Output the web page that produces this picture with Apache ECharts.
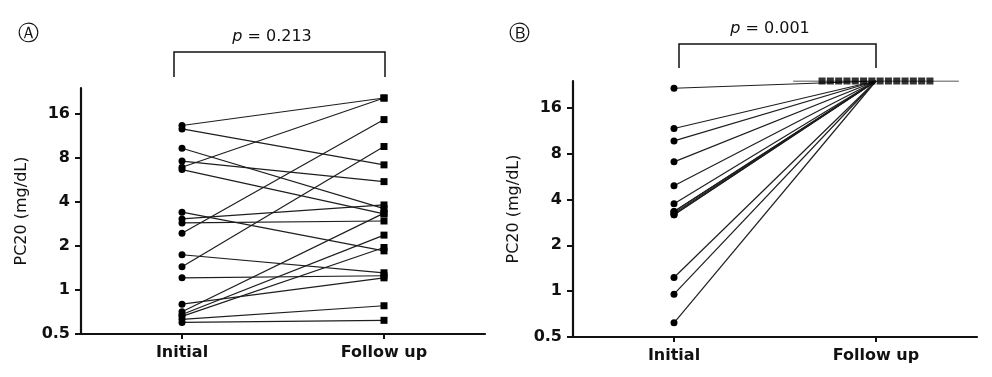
<!DOCTYPE html>
<html>
<head>
<meta charset="utf-8">
<script src="https://cdn.jsdelivr.net/npm/echarts@6/dist/echarts.min.js"></script>
<style>
html,body{margin:0;padding:0;background:#fff;}
#chart{width:992px;height:377px;}
</style>
</head>
<body>
<div id="chart"></div>
<script>
// ---- data ----
const categories = ['Initial', 'Follow up'];
const yTicks = [0.5, 1, 2, 4, 8, 16];
const yMin = 0.5;
const yMax = 24;
// Panel A: paired PC20 values (mg/dL)
const initialA = [13.3, 12.6, 9.3, 7.6, 6.9, 6.65, 3.4, 3.06, 2.87, 2.44, 1.74, 1.44, 1.21, 0.80, 0.71, 0.68, 0.66, 0.63, 0.60];
const followA  = [20.5, 7.16, 3.6, 5.5, 20.5, 3.31, 1.85, 3.81, 2.96, 14.6, 1.31, 9.56, 1.25, 1.21, 3.35, 2.37, 1.95, 0.78, 0.62];
// Panel B: paired PC20 values (mg/dL)
const initialB = [21.5, 11.7, 9.7, 7.07, 4.93, 3.75, 3.34, 3.34, 3.25, 3.17, 3.17, 1.23, 0.955, 0.62];
const followB  = [24, 24, 24, 24, 24, 24, 24, 24, 24, 24, 24, 24, 24, 24];
const pTextA = '0.213';
const pTextB = '0.001';
const yName = 'PC20 (mg/dL)';

// ---- style ----
const FONT = 'DejaVu Sans';
const INK = '#111';
const LINE = '#1e1e1e';

function yAxisCfg(gridIndex) {
  return {
    type: 'log', logBase: 2, gridIndex: gridIndex, min: yMin, max: yMax,
    name: yName, nameLocation: 'middle', nameRotate: 90, nameGap: 51,
    nameTextStyle: {fontFamily: FONT, fontSize: 16, color: INK},
    axisLine: {show: true, lineStyle: {color: INK, width: 2.2}},
    axisTick: {show: true, length: 6, lineStyle: {color: INK, width: 2}, customValues: yTicks},
    axisLabel: {fontFamily: FONT, fontWeight: 'bold', fontSize: 16, color: INK, margin: 11,
      customValues: yTicks, formatter: v => String(v)},
    splitLine: {show: false}, minorTick: {show: false}
  };
}
function xAxisCfg(gridIndex) {
  return {
    type: 'category', gridIndex: gridIndex, data: categories, boundaryGap: true,
    axisLine: {show: true, lineStyle: {color: INK, width: 2.2}},
    axisTick: {show: true, alignWithLabel: true, length: 5, lineStyle: {color: INK, width: 2}},
    axisLabel: {fontFamily: FONT, fontWeight: 'bold', fontSize: 16, color: INK, margin: 11},
    splitLine: {show: false}
  };
}

const series = [];
initialA.forEach((v, i) => {
  series.push({
    type: 'line', xAxisIndex: 0, yAxisIndex: 0, silent: true, animation: false,
    lineStyle: {color: LINE, width: 1.2},
    itemStyle: {color: '#000'},
    data: [
      {value: v, symbol: 'circle', symbolSize: 7},
      {value: followA[i], symbol: 'rect', symbolSize: 7}
    ]
  });
});
initialB.forEach((v, i) => {
  series.push({
    type: 'line', xAxisIndex: 1, yAxisIndex: 1, silent: true, animation: false,
    lineStyle: {color: LINE, width: 1.2},
    itemStyle: {color: '#000'},
    data: [
      {value: v, symbol: 'circle', symbolSize: 7},
      {value: followB[i], symbol: 'none'}
    ]
  });
});
// horizontal bar at the follow-up level in panel B
const barHalf = 0.41;
series.push({
  type: 'line', xAxisIndex: 2, yAxisIndex: 1, silent: true, animation: false, symbol: 'none',
  lineStyle: {color: LINE, width: 1.2},
  data: [[1.5 - barHalf, followB[0]], [1.5 + barHalf, followB[0]]]
});
// spread squares for identical follow-up values
const n = followB.length;
series.push({
  type: 'scatter', xAxisIndex: 1, yAxisIndex: 1, silent: true, animation: false, z: 5,
  symbol: 'rect', symbolSize: 7, itemStyle: {color: '#000'},
  data: followB.map((v, i) => ({value: [categories[1], v], symbolOffset: [(i - (n - 1) / 2) * 8.3, 0]}))
});

const option = {
  backgroundColor: '#fff',
  animation: false,
  grid: [
    {left: 81, top: 88, width: 404, height: 246},
    {left: 573, top: 81, width: 404, height: 256}
  ],
  xAxis: [xAxisCfg(0), xAxisCfg(1),
    {type: 'value', gridIndex: 1, min: 0, max: 2, show: false}],
  yAxis: [yAxisCfg(0), yAxisCfg(1)],
  series: series,
  graphic: [
    {type: 'text', x: 28, y: 35, style: {text: 'Ⓐ', align: 'center', verticalAlign: 'middle', font: '21px "DejaVu Sans"', fill: INK}},
    {type: 'text', x: 519, y: 35, style: {text: 'Ⓑ', align: 'center', verticalAlign: 'middle', font: '21px "DejaVu Sans"', fill: INK}},
    {type: 'text', x: 272, y: 37, style: {
      text: '{i|p} = ' + pTextA, align: 'center', verticalAlign: 'middle',
      fontFamily: FONT, fontSize: 16, fill: INK,
      rich: {i: {fontStyle: 'italic', fontFamily: FONT, fontSize: 16, fill: INK}}}},
    {type: 'text', x: 770, y: 29, style: {
      text: '{i|p} = ' + pTextB, align: 'center', verticalAlign: 'middle',
      fontFamily: FONT, fontSize: 16, fill: INK,
      rich: {i: {fontStyle: 'italic', fontFamily: FONT, fontSize: 16, fill: INK}}}},
    {type: 'polyline', shape: {points: [[174, 77], [174, 52], [385, 52], [385, 77]]},
      style: {stroke: INK, lineWidth: 1.5, fill: null}},
    {type: 'polyline', shape: {points: [[679, 68], [679, 44], [876, 44], [876, 68]]},
      style: {stroke: INK, lineWidth: 1.5, fill: null}}
  ]
};

const chart = echarts.init(document.getElementById('chart'), null, {renderer: 'canvas'});
chart.setOption(option);
</script>
</body>
</html>
